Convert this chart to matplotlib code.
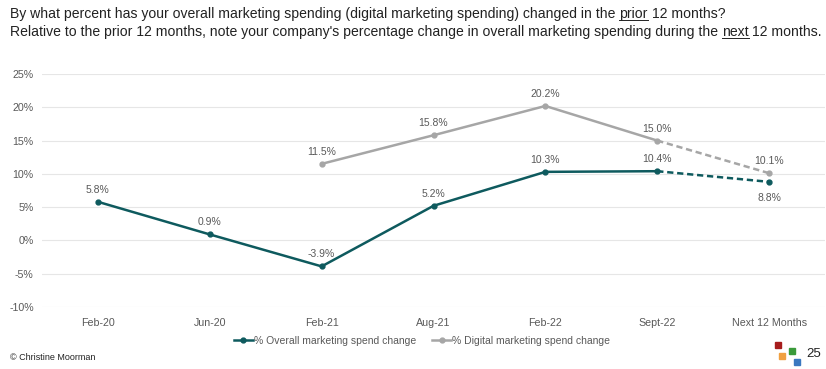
import matplotlib
matplotlib.use("Agg")
import matplotlib.pyplot as plt
from matplotlib.patches import Rectangle

plt.rcParams['font.family'] = ['Liberation Sans', 'DejaVu Sans']

categories = ["Feb-20", "Jun-20", "Feb-21", "Aug-21", "Feb-22", "Sept-22", "Next 12 Months"]
overall = [5.8, 0.9, -3.9, 5.2, 10.3, 10.4, 8.8]
digital = [None, None, 11.5, 15.8, 20.2, 15.0, 10.1]
yticks = [-10, -5, 0, 5, 10, 15, 20, 25]

teal = "#0E5A5E"
gray = "#A6A6A6"
textc = "#595959"
FS = 10.1

fig = plt.figure(figsize=(8.26, 3.69), dpi=100)
ax = fig.add_axes([42/826, 1-307/369, (825-42)/826, (307-74)/369])

x = list(range(len(categories)))
ax.plot(x[:6], overall[:6], color=teal, lw=1.8, marker='o', ms=3.5, label="% Overall marketing spend change", zorder=3)
ax.plot(x[5:], overall[5:], color=teal, lw=1.8, ls=(0, (2.5, 1.5)), zorder=3)
ax.plot(x[6], overall[6], color=teal, marker='o', ms=3.5, zorder=3)
ax.plot(x[2:6], digital[2:6], color=gray, lw=1.8, marker='o', ms=3.5, label="% Digital marketing spend change", zorder=3)
ax.plot(x[5:], digital[5:], color=gray, lw=1.8, ls=(0, (2.5, 1.5)), zorder=3)
ax.plot(x[6], digital[6], color=gray, marker='o', ms=3.5, zorder=3)

for i, v in enumerate(overall):
    if i == 6:
        ax.annotate(f"{v}%", (i, v), xytext=(0, -8), textcoords='offset points', ha='center', va='top', fontsize=7.5, color=textc)
    else:
        ax.annotate(f"{v}%", (i, v), xytext=(0, 5), textcoords='offset points', ha='center', va='bottom', fontsize=7.5, color=textc)
for i, v in enumerate(digital):
    if v is None:
        continue
    ax.annotate(f"{v}%", (i, v), xytext=(0, 5), textcoords='offset points', ha='center', va='bottom', fontsize=7.5, color=textc)

ax.set_xlim(-0.5, 6.5)
ax.set_ylim(-10, 25)
ax.set_yticks(yticks)
ax.set_yticklabels([f"{t}%" for t in yticks])
ax.set_xticks(x)
ax.set_xticklabels(categories)
ax.tick_params(axis='both', length=0, labelsize=7.7, labelcolor=textc)
ax.tick_params(axis='y', pad=6)
ax.tick_params(axis='x', pad=8)
ax.grid(axis='y', color='#E6E6E6', lw=0.8)
for s in ax.spines.values():
    s.set_visible(False)

leg = fig.legend(loc='center', bbox_to_anchor=(422/826, 1-341/369), ncol=2, frameon=False,
                 fontsize=7.5, handlelength=1.8, columnspacing=1.6, handletextpad=0.1)
for t in leg.get_texts():
    t.set_color(textc)

fig.text(10/826, 1-14/369, "By what percent has your overall marketing spending (digital marketing spending) changed in the ", fontsize=FS, va='center', color='#222222')
fig.text(10/826, 1-32/369, "Relative to the prior 12 months, note your company's percentage change in overall marketing spending during the ", fontsize=FS, va='center', color='#222222')

fig.canvas.draw()
r = fig.canvas.get_renderer()
def append(prev_text, words):
    W, H = fig.get_size_inches() * fig.dpi
    bb = prev_text.get_window_extent(r)
    x0 = bb.x1 / W
    y = prev_text.get_position()[1]
    t = fig.text(x0, y, words[0], fontsize=FS, va='center', color='#222222')
    fig.canvas.draw()
    b2 = t.get_window_extent(r)
    fig.add_artist(plt.Line2D([b2.x0 / W, b2.x1 / W], [(b2.y0 + 1) / H, (b2.y0 + 1) / H], color='#222222', lw=0.7))
    fig.text(b2.x1 / W, y, words[1], fontsize=FS, va='center', color='#222222')

texts = [t for t in fig.texts]
append(texts[0], ["prior", " 12 months?"])
append(texts[1], ["next", " 12 months."])

fig.text(10/826, 1-358/369, "\u00a9 Christine Moorman", fontsize=6.5, va='center', color='#222222')

sq = 6/826
sqh = 6/369
for (cx, cy, c) in [(778, 345, '#A61C1C'), (792, 351, '#3A9A3A'), (782, 356, '#F0A040'), (797, 362, '#3A78C0')]:
    fig.add_artist(Rectangle((cx/826 - sq/2, 1-cy/369 - sqh/2), sq, sqh, color=c, transform=fig.transFigure))
fig.text(806/826, 1-354/369, "25", fontsize=9.5, va='center', color='#222222')

fig.savefig("out.png", dpi=100)
